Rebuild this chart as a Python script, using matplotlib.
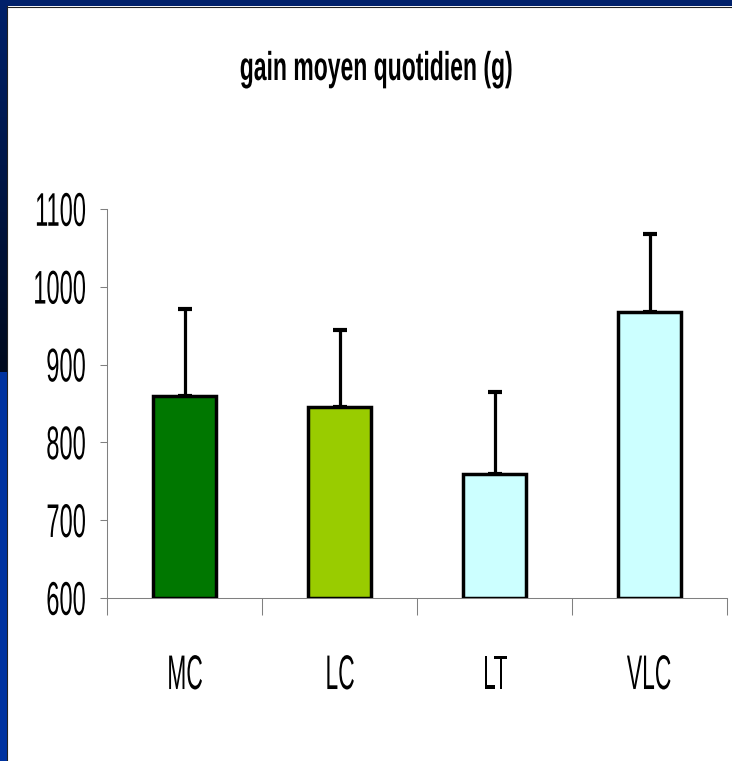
import numpy as np
import matplotlib
matplotlib.use('Agg')
import matplotlib.pyplot as plt
from matplotlib.patches import Rectangle
from matplotlib.lines import Line2D
from matplotlib.patheffects import AbstractPathEffect
from matplotlib.transforms import Affine2D
from matplotlib.colors import to_rgb

categories = ['MC', 'LC', 'LT', 'VLC']
gain = [860, 845, 760, 968]
gain_err = [112, 100, 105, 100]
bar_colors = ['#007700', '#99cc00', '#ccffff', '#ccffff']
y_ticks = [600, 700, 800, 900, 1000, 1100]
title = 'gain moyen quotidien (g)'

W, H = 732, 761
plt.rcParams['font.family'] = ['Liberation Sans', 'DejaVu Sans']


class Squeeze(AbstractPathEffect):
    """draw text narrower (and optionally taller) than the font, scaling around an anchor"""
    def __init__(self, sx, anchor='center', sy=1.0):
        super().__init__()
        self.sx = sx
        self.sy = sy
        self.anchor = anchor

    def draw_path(self, renderer, gc, tpath, affine, rgbFace=None):
        ext = tpath.get_extents()
        x0 = {'left': ext.x0, 'center': (ext.x0 + ext.x1) / 2, 'right': ext.x1}[self.anchor]
        y0 = (ext.y0 + ext.y1) / 2
        t = Affine2D().translate(-x0, -y0).scale(self.sx, self.sy).translate(x0, y0) + affine
        renderer.draw_path(gc, tpath, t, rgbFace)


fig = plt.figure(figsize=(W / 100, H / 100), dpi=100, facecolor='white')

# slide frame: navy top band, dark-to-blue band on the left
fig.add_artist(Rectangle((0, 1 - 6 / H), 1, 6 / H, transform=fig.transFigure,
                         facecolor='#00206a', edgecolor='none'))
fig.add_artist(Rectangle((0, 0), 8 / W, 389 / H, transform=fig.transFigure,
                         facecolor='#0033a0', edgecolor='none'))
grad_ax = fig.add_axes([0, 389 / H, 8 / W, (372 - 6) / H])
c_top, c_bot = np.array(to_rgb('#00216a')), np.array(to_rgb('#000a1e'))
t = np.linspace(0, 1, 200)[:, None]
grad = (c_top * (1 - t) + c_bot * t)[:, None, :]
grad_ax.imshow(grad, aspect='auto', extent=[0, 1, 0, 1])
grad_ax.axis('off')
fig.add_artist(Line2D([7.5 / W, 7.5 / W], [0, 1 - 6 / H], transform=fig.transFigure,
                      color='#222222', lw=0.8))
fig.add_artist(Line2D([7.5 / W, 1], [1 - 6.5 / H, 1 - 6.5 / H], transform=fig.transFigure,
                      color='#222222', lw=0.8))

ax = fig.add_axes([107 / W, 163 / H, 620 / W, 389 / H])
ax.set_facecolor('none')
x = np.arange(len(categories))
base = y_ticks[0]
ax.bar(x, np.array(gain) - base, bottom=base, width=0.41, color=bar_colors,
       edgecolor='black', linewidth=2.5, zorder=3)
ax.errorbar(x, gain, yerr=[np.zeros(len(gain)), gain_err], fmt='none',
            ecolor='black', elinewidth=2.3, capsize=5, capthick=3, zorder=2.6)

ax.set_xlim(-0.5, len(categories) - 0.5)
ax.set_ylim(y_ticks[0], y_ticks[-1])
ax.set_yticks(y_ticks)
ax.set_xticks(np.arange(-0.5, len(categories), 1))
ax.tick_params(axis='y', direction='out', length=5, width=0.75, color='#808080',
               pad=10, labelsize=24)
ax.tick_params(axis='x', direction='out', length=12, width=0.75, color='#808080',
               labelbottom=False)
for side in ['top', 'right']:
    ax.spines[side].set_visible(False)
for side in ['left', 'bottom']:
    ax.spines[side].set_color('#808080')
    ax.spines[side].set_linewidth(0.75)
for lab in ax.get_yticklabels():
    lab.set_path_effects([Squeeze(0.71, 'right', sy=34 / 24)])

for i, cat in enumerate(categories):
    ax.text(i, -0.234, cat, transform=ax.get_xaxis_transform(), ha='center',
            va='baseline', fontsize=35, path_effects=[Squeeze(0.47)])

fig.text(376 / W, 1 - 80 / H, title, ha='center', va='baseline', fontsize=29,
         fontweight='bold', path_effects=[Squeeze(0.57)])

fig.savefig('out.png', dpi=100)
